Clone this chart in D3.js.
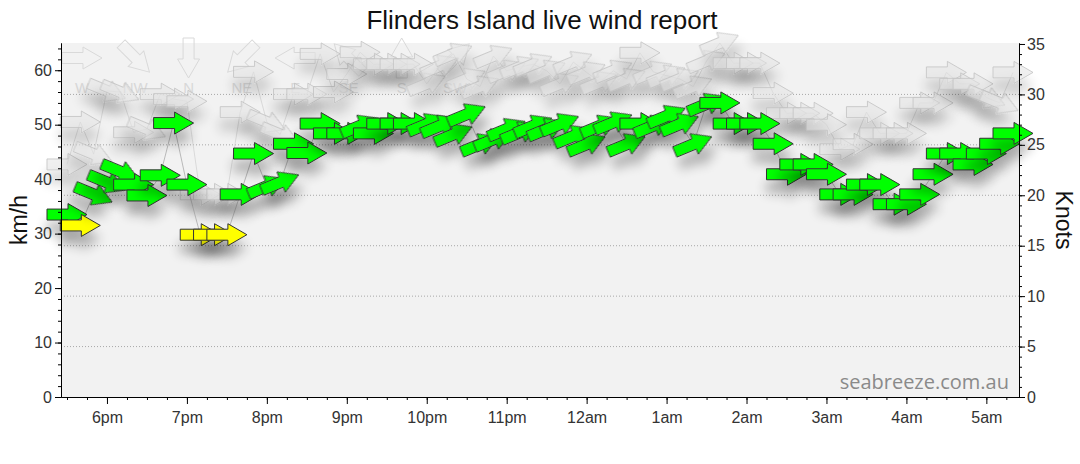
<!DOCTYPE html>
<html>
<head>
<meta charset="utf-8">
<script src="https://cdn.jsdelivr.net/npm/d3@7"></script>
<style>
  body { margin: 0; background: #fff; }
  svg text { font-family: "Liberation Sans", Arial, sans-serif; }
</style>
</head>
<body>
<div id="graph"></div>
<script>
// observation times (10 minute readings)
var times = ["17:30","17:40","17:50","18:00","18:10","18:20","18:30","18:40","18:50",
  "19:00","19:10","19:20","19:30","19:40","19:50","20:00","20:10","20:20","20:30","20:40","20:50",
  "21:00","21:10","21:20","21:30","21:40","21:50","22:00","22:10","22:20","22:30","22:40","22:50",
  "23:00","23:10","23:20","23:30","23:40","23:50","00:00","00:10","00:20","00:30","00:40","00:50",
  "01:00","01:10","01:20","01:30","01:40","01:50","02:00","02:10","02:20","02:30","02:40","02:50",
  "03:00","03:10","03:20","03:30","03:40","03:50","04:00","04:10","04:20","04:30","04:40","04:50",
  "05:00","05:10","05:20"];

// average wind speed, km/h
var windKmh = [33.5,31.5,37.2,39.4,41.4,39.0,37.0,40.7,50.3,
  39.0,29.8,29.8,29.8,37.2,44.7,38.7,39.4,46.5,44.8,50.2,48.4,
  48.4,49.8,48.4,50.2,50.2,50.2,50.1,49.8,48.2,51.9,46.4,47.3,
  49.2,48.6,49.8,49.2,50.1,47.9,46.4,49.8,50.4,46.4,50.2,49.8,
  51.6,50.1,46.4,53.8,54.0,50.2,50.2,50.2,46.5,40.9,42.7,42.7,
  40.9,37.2,37.2,39.0,39.0,35.4,35.4,37.2,40.9,44.7,44.7,42.7,
  44.7,46.5,48.4];
var windDir = ["W","W","WNW","WNW","WNW","W","W","W","W",
  "W","W","W","W","W","W","WSW","WSW","W","W","W","W",
  "W","WSW","W","W","W","W","WSW","WSW","WSW","WSW","WSW","WSW",
  "WSW","WSW","WSW","WSW","WSW","WSW","WSW","WSW","WSW","WSW","W","WSW",
  "WSW","WSW","WSW","WSW","W","W","W","W","W","W","W","W",
  "W","W","W","W","W","W","W","W","W","W","W","W",
  "W","W","W"];

// gusts, km/h
var gustKmh = [42.7,50.5,44.6,56.2,56.0,48.6,49.2,55.6,54.7,
  54.3,37.2,37.2,37.2,52.3,59.7,50.5,48.2,55.6,55.6,63.0,56.0,
  59.3,63.3,61.1,61.1,61.1,61.1,57.5,60.8,63.0,58.4,57.0,62.6,
  59.9,60.6,61.1,59.9,57.5,61.5,59.6,57.8,59.9,58.4,63.2,59.7,
  59.0,58.4,57.0,61.7,65.0,61.3,61.3,61.3,55.8,52.1,52.1,52.1,
  50.0,45.5,46.4,52.3,48.4,48.4,48.4,54.0,54.0,59.6,57.5,57.5,
  55.0,54.0,59.6];
var gustDir = ["W","W","WNW","WNW","WNW","W","WNW","W","W",
  "W","W","W","W","W","W","WNW","WNW","W","W","W","W",
  "W","W","W","W","W","W","WSW","WSW","WSW","WSW","WSW","WSW",
  "WSW","WSW","WSW","WSW","WSW","WSW","WSW","WSW","WSW","WSW","W","WSW",
  "WSW","WSW","WSW","WSW","WSW","W","W","W","W","W","W","W",
  "W","W","W","W","W","W","W","W","W","W","W","W",
  "WNW","WNW","W"];

var legendDirs = ["W","NW","N","NE","E","SE","S","SW"];
var kmhTicks = [0,10,20,30,40,50,60];
var knotTicks = [0,5,10,15,20,25,30,35];
var knotGrid = [5,10,15,20,25,30];

var compass = {N:0,NNE:22.5,NE:45,ENE:67.5,E:90,ESE:112.5,SE:135,SSE:157.5,
  S:180,SSW:202.5,SW:225,WSW:247.5,W:270,WNW:292.5,NW:315,NNW:337.5};

// set the dimensions and margins of the graph
var margin = {top: 43, right: 61, bottom: 67, left: 61},
    width = 1080 - margin.left - margin.right,
    height = 464 - margin.top - margin.bottom;

var svg = d3.select("#graph")
  .append("svg")
    .attr("width", 1080)
    .attr("height", 464);

// soft drop shadow under every arrow
var filt = svg.append("defs").append("filter")
    .attr("id", "shadow")
    .attr("x", "-70%").attr("y", "-70%")
    .attr("width", "240%").attr("height", "340%");
filt.append("feGaussianBlur").attr("in", "SourceAlpha").attr("stdDeviation", 6);
filt.append("feOffset").attr("dx", 0).attr("dy", 13);
filt.append("feComponentTransfer").append("feFuncA").attr("type", "linear").attr("slope", 0.28);
var fm = filt.append("feMerge");
fm.append("feMergeNode");
fm.append("feMergeNode").attr("in", "SourceGraphic");

var g = svg.append("g")
    .attr("transform", "translate(" + margin.left + "," + margin.top + ")");

// parse times, the ones after midnight belong to the next day
function parseT(s) {
  var p = s.split(":"), h = +p[0], m = +p[1];
  return new Date(2024, 0, h < 12 ? 2 : 1, h, m);
}
var data = times.map(function(t, i) {
  return { date: parseT(t), wind: windKmh[i], wdir: windDir[i], gust: gustKmh[i], gdir: gustDir[i] };
});

// scales
var x = d3.scaleTime()
    .domain([new Date(2024, 0, 1, 17, 25, 30), new Date(2024, 0, 2, 5, 24, 30)])
    .range([0, width]);
var y = d3.scaleLinear().domain([0, 65]).range([height, 0]);
var yKn = d3.scaleLinear().domain([0, 65 / 1.852]).range([height, 0]);
var colour = d3.scaleThreshold().domain([32.5]).range(["#ffff00", "#00ff00"]);

// plot background
g.append("rect")
    .attr("width", width)
    .attr("height", height)
    .attr("fill", "#f2f2f2");

// gridlines at knot values
g.append("g")
  .selectAll("line")
  .data(knotGrid)
  .enter().append("line")
    .attr("x1", 0).attr("x2", width)
    .attr("y1", function(d) { return yKn(d); })
    .attr("y2", function(d) { return yKn(d); })
    .attr("stroke", "#a8a8a8")
    .attr("stroke-width", 1)
    .attr("stroke-dasharray", "1,2");

var arrowPath = "M-20,-5.5L1,-5.5L1,-11L20,0L1,11L1,5.5L-20,5.5Z";

// faint compass legend
var lx = d3.scalePoint().domain(legendDirs).range([21, 394]);
var leg = g.append("g");
leg.selectAll("path")
  .data(legendDirs)
  .enter().append("path")
    .attr("d", arrowPath)
    .attr("transform", function(d) { return "translate(" + lx(d) + ",15) rotate(" + (compass[d] + 90) + ")"; })
    .attr("fill", "none")
    .attr("stroke", "#d9d9d9");
leg.selectAll("text")
  .data(legendDirs)
  .enter().append("text")
    .attr("x", function(d) { return lx(d); })
    .attr("y", 50)
    .attr("text-anchor", "middle")
    .attr("font-size", "15px")
    .attr("fill", "#d8d8d8")
    .text(function(d) { return d; });

// watermark
g.append("text")
    .attr("x", width - 10)
    .attr("y", height - 8)
    .attr("text-anchor", "end")
    .attr("font-size", "20px")
    .style("font-family", "'Open Sans', sans-serif")
    .attr("fill", "#8a8a8a")
    .text("seabreeze.com.au");

// gust line and arrows
g.append("path")
  .datum(data)
    .attr("fill", "none")
    .attr("stroke", "#cfcfcf")
    .attr("stroke-width", 0.7)
    .attr("d", d3.line()
      .x(function(d) { return x(d.date); })
      .y(function(d) { return y(d.gust); }));

g.append("g")
  .selectAll("path")
  .data(data)
  .enter().append("path")
    .attr("d", arrowPath)
    .attr("transform", function(d) { return "translate(" + x(d.date) + "," + y(d.gust) + ") rotate(" + (compass[d.gdir] + 90) + ")"; })
    .attr("fill", "#e4e4e4")
    .attr("fill-opacity", 0.55)
    .attr("stroke", "#c2c2c2")
    .attr("stroke-opacity", 0.8)
    .attr("filter", "url(#shadow)");

// wind line and arrows
g.append("path")
  .datum(data)
    .attr("fill", "none")
    .attr("stroke", "#a0a0a0")
    .attr("stroke-width", 0.7)
    .attr("d", d3.line()
      .x(function(d) { return x(d.date); })
      .y(function(d) { return y(d.wind); }));

g.append("g")
  .selectAll("path")
  .data(data)
  .enter().append("path")
    .attr("d", arrowPath)
    .attr("transform", function(d) { return "translate(" + x(d.date) + "," + y(d.wind) + ") rotate(" + (compass[d.wdir] + 90) + ")"; })
    .attr("fill", function(d) { return colour(d.wind); })
    .attr("stroke", "#333")
    .attr("stroke-width", 1)
    .attr("filter", "url(#shadow)");

// axes
function hourFmt(d) {
  return d3.timeFormat("%-I")(d) + (d.getHours() < 12 ? "am" : "pm");
}

g.append("g")
    .attr("transform", "translate(0," + height + ")")
    .call(d3.axisBottom(x).ticks(d3.timeMinute.every(15)).tickSize(3).tickSizeOuter(0).tickFormat(""));
g.append("g")
    .attr("class", "axis")
    .attr("transform", "translate(0," + height + ")")
    .call(d3.axisBottom(x).ticks(d3.timeHour.every(1)).tickSize(7).tickSizeOuter(0).tickPadding(8).tickFormat(hourFmt));

g.append("g")
    .call(d3.axisLeft(y).tickValues(d3.range(0, 65, 2)).tickSize(3).tickSizeOuter(0).tickFormat(""));
g.append("g")
    .attr("class", "axis")
    .call(d3.axisLeft(y).tickValues(kmhTicks).tickSize(6).tickSizeOuter(0).tickPadding(3));

g.append("g")
    .attr("transform", "translate(" + width + ",0)")
    .call(d3.axisRight(yKn).tickValues(d3.range(0, 36, 1)).tickSize(3).tickSizeOuter(0).tickFormat(""));
g.append("g")
    .attr("class", "axis")
    .attr("transform", "translate(" + width + ",0)")
    .call(d3.axisRight(yKn).tickValues(knotTicks).tickSize(6).tickSizeOuter(0).tickPadding(2));

svg.selectAll(".domain").attr("stroke", "#000");
svg.selectAll(".tick line").attr("stroke", "#000");
svg.selectAll(".axis text")
    .attr("font-size", "16px")
    .style("font-family", "'Liberation Sans', Arial, sans-serif")
    .attr("fill", "#333");

// titles
svg.append("text")
    .attr("x", 542)
    .attr("y", 29)
    .attr("text-anchor", "middle")
    .attr("font-size", "26px")
    .attr("fill", "#111")
    .text("Flinders Island live wind report");

svg.append("text")
    .attr("transform", "translate(27," + (margin.top + height / 2) + ") rotate(-90)")
    .attr("text-anchor", "middle")
    .attr("font-size", "23px")
    .attr("fill", "#111")
    .text("km/h");

svg.append("text")
    .attr("transform", "translate(1056," + (margin.top + height / 2) + ") rotate(90)")
    .attr("text-anchor", "middle")
    .attr("font-size", "23px")
    .attr("fill", "#111")
    .text("Knots");
</script>
</body>
</html>
